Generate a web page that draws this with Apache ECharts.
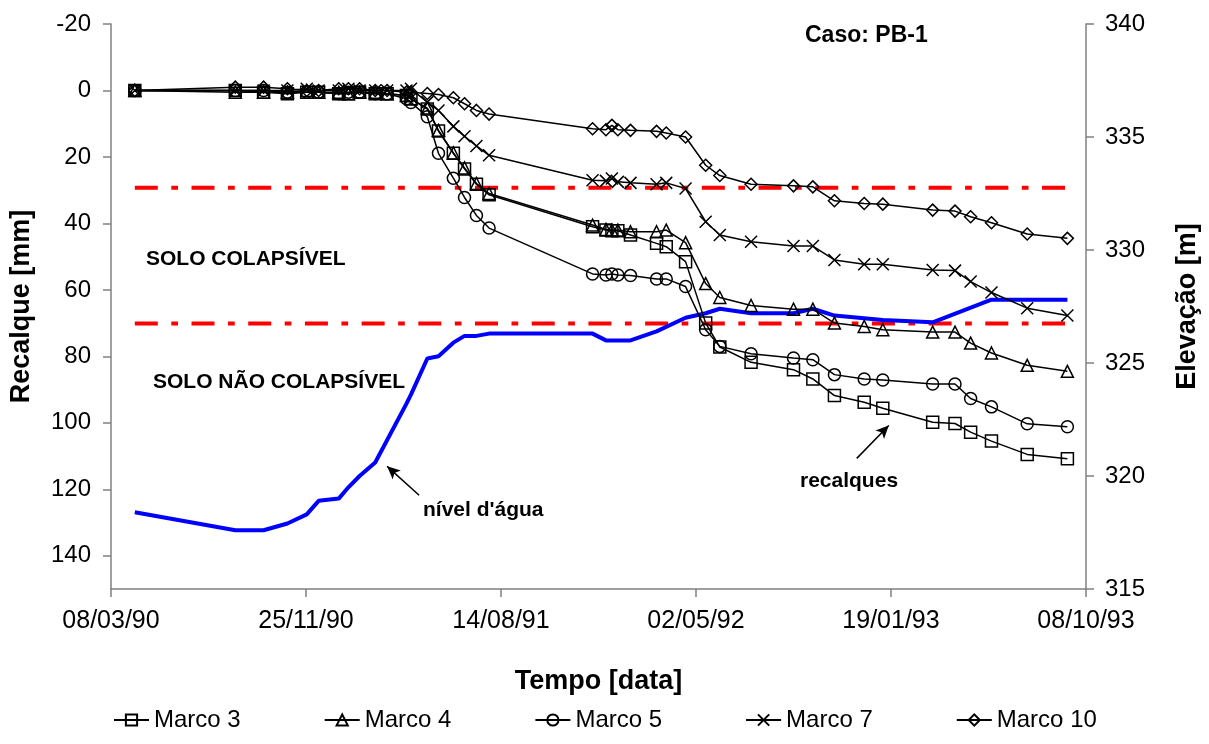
<!DOCTYPE html>
<html>
<head>
<meta charset="utf-8">
<title>Caso: PB-1</title>
<script src="https://cdn.jsdelivr.net/npm/echarts@6/dist/echarts.min.js"></script>
<style>
  html, body { margin: 0; padding: 0; background: #fff; }
  #grafico { width: 1209px; height: 744px; }
</style>
</head>
<body>
<div id="grafico"></div>
<script>
// datas das leituras (iguais para todos os marcos)
var datas = ['1990-04-09','1990-08-22','1990-09-29','1990-10-31','1990-11-26','1990-12-12',
  '1991-01-08','1991-01-21','1991-02-05','1991-02-26','1991-03-14','1991-04-09','1991-04-15',
  '1991-05-07','1991-05-22','1991-06-11','1991-06-26','1991-07-12','1991-07-29','1991-12-15',
  '1992-01-02','1992-01-10','1992-01-18','1992-02-04','1992-03-10','1992-03-23','1992-04-18',
  '1992-05-15','1992-06-03','1992-07-15','1992-09-10','1992-10-06','1992-11-04','1992-12-14',
  '1993-01-08','1993-03-16','1993-04-15','1993-05-06','1993-06-03','1993-07-21','1993-09-13'];

// recalques [mm]
var marco3 = [0,0,0.5,1,0.5,0.5,1,1,0.5,1,1, 1.5,2.5,5.6,12.2,18.9,23.6,28.2,31.4,
  41,42,42.2,42.2,43.5,46,47,51.5, 70,77.2,81.8,84,86.8,91.8,93.8,95.6,99.8,100.2,102.8,105.5,109.5,110.8];
var marco4 = [0,0.5,0.5,0.5,0,0.5,0.5,1,0.5,0.5,1, 1.5,2.5,5.3,12,18.8,23.3,28,31,
  40.5,41.8,42,42,42.5,42.5,42,45.8, 58.1,62.3,64.7,65.8,65.8,70,71,72,72.7,72.7,76,79,82.7,84.5];
var marco5 = [0,0,0,0.5,0.5,0.5,1,0.5,0.5,1,1, 2.5,3.6,7.9,18.9,26.4,32.2,37.6,41.4,
  55.2,55.5,55.2,55.5,55.7,56.7,56.7,59, 72,77,79.2,80.5,81,85.5,86.8,87.1,88.3,88.3,92.7,95.2,100.3,101.2];
var marco7 = [0,0,0,0,-0.5,0,0,-0.5,0,0,0, 0,-0.5,3.5,6,10.8,13.8,16.7,19.5,
  27,27.2,26.5,27.5,27.8,28.2,27.8,29.5, 39.5,43.5,45.5,46.8,46.8,51,52.3,52.3,54,54.2,57.5,60.8,65.5,67.7];
var marco10 = [0,-1,-1,-0.5,0,0,-0.5,-0.5,-0.5,0,0, 0.5,0.5,0.9,1.2,2.2,4,6,7.1,
  11.5,11.8,10.5,11.8,12,12.3,12.8,14, 22.5,25.6,28.2,28.7,29,33.2,34,34.2,36,36.3,38,39.8,43.2,44.5];

// nivel d'agua (elevacao [m])
var nivelDatas = ['1990-04-09','1990-08-22','1990-09-29','1990-10-31','1990-11-26','1990-12-12',
  '1991-01-08','1991-01-21','1991-02-05','1991-02-26','1991-04-09','1991-04-15','1991-05-07',
  '1991-05-22','1991-06-11','1991-06-26','1991-07-12','1991-07-29','1991-12-15','1992-01-02',
  '1992-02-04','1992-03-10','1992-04-18','1992-05-15','1992-06-03','1992-07-15','1992-09-10',
  '1992-10-06','1992-11-04','1993-01-08','1993-03-16','1993-06-03','1993-09-13'];
var nivelCotas = [318.4,317.6,317.6,317.9,318.3,318.9,319.0,319.5,320.0,320.6,323.2,323.6,325.2,
  325.3,325.9,326.2,326.2,326.3,326.3,326.0,326.0,326.4,327.0,327.2,327.4,327.2,327.2,
  327.4,327.1,326.9,326.8,327.8,327.8];

// limites das camadas [mm]
var limites = [29.3, 70.1];
var limiteDatas = ['1990-04-09', '1993-09-13'];

// eixos
var inicio = '1990-03-08';
var passoDias = 262;
var rotulosX = ['08/03/90','25/11/90','14/08/91','02/05/92','19/01/93','08/10/93'];

// setas das anotacoes [data, mm]
var setaNivel = [['1991-04-26', 121.8], ['1991-03-14', 113.1]];
var setaRecalque = [['1992-12-04', 110.7], ['1993-01-16', 100.8]];

function dia(s) {
  var p = s.split('-'), q = inicio.split('-');
  return (Date.UTC(+p[0], p[1] - 1, +p[2]) - Date.UTC(+q[0], q[1] - 1, +q[2])) / 864e5;
}

var fonte = '"Liberation Sans", Arial, sans-serif';
var cinza = '#808080';

function marco(nome, valores, simbolo) {
  return {
    name: nome, type: 'line', z: 5,
    data: datas.map(function (d, i) { return [dia(d), valores[i]]; }),
    symbol: simbolo, symbolSize: 12, showAllSymbol: true,
    lineStyle: { color: '#000', width: 1.5 },
    itemStyle: { color: 'rgba(0,0,0,0)', borderColor: '#000', borderWidth: 1.5 },
    emphasis: { disabled: true }
  };
}

function limite(v, comSetas) {
  var s = {
    name: 'limite', type: 'line', z: 2, symbol: 'none',
    data: limiteDatas.map(function (d) { return [dia(d), v]; }),
    lineStyle: { color: '#ff0000', width: 4, type: [23, 13.5, 6.7, 13.5] },
    emphasis: { disabled: true }
  };
  if (comSetas) {
    s.markLine = {
      silent: true, symbol: ['none', 'arrow'], symbolSize: [9, 13],
      label: { show: false },
      lineStyle: { color: '#000', width: 1.5, type: 'solid' },
      data: [setaNivel, setaRecalque].map(function (a) {
        return [{ coord: [dia(a[0][0]), a[0][1]] }, { coord: [dia(a[1][0]), a[1][1]] }];
      })
    };
  }
  return s;
}

function texto(t, x, y, tam) {
  return { type: 'text', x: x, y: y, z: 10,
    style: { text: t, fill: '#000', font: 'bold ' + tam + 'px ' + fonte, verticalAlign: 'middle' } };
}

var grafico = echarts.init(document.getElementById('grafico'));
grafico.setOption({
  animation: false,
  backgroundColor: '#fff',
  textStyle: { fontFamily: fonte },
  grid: { left: 110, right: 122, top: 24, bottom: 155 },
  legend: {
    data: ['Marco 3', 'Marco 4', 'Marco 5', 'Marco 7', 'Marco 10'],
    left: 108, top: 703, itemWidth: 35, itemHeight: 14, itemGap: 83,
    textStyle: { fontSize: 24, color: '#000', fontFamily: fonte }
  },
  xAxis: {
    type: 'value', min: 0, max: dia('1993-10-08'), interval: passoDias,
    name: 'Tempo [data]', nameLocation: 'middle', nameGap: 79,
    nameTextStyle: { fontSize: 27, fontWeight: 'bold', color: '#000' },
    axisLine: { onZero: false, lineStyle: { color: cinza, width: 1.5 } },
    axisTick: { length: 8, lineStyle: { color: cinza, width: 1.5 } },
    axisLabel: { fontSize: 25, color: '#000', margin: 20,
      formatter: function (v) { return rotulosX[Math.round(v / passoDias)] || ''; } },
    splitLine: { show: false }
  },
  yAxis: [{
    type: 'value', inverse: true, min: -20, max: 150, interval: 20,
    name: 'Recalque [mm]', nameLocation: 'middle', nameGap: 76,
    nameTextStyle: { fontSize: 27, fontWeight: 'bold', color: '#000' },
    axisLine: { show: true, onZero: false, lineStyle: { color: cinza, width: 1.5 } },
    axisTick: { show: true, length: 8, lineStyle: { color: cinza, width: 1.5 } },
    axisLabel: { fontSize: 24, color: '#000', margin: 20, showMaxLabel: false },
    splitLine: { show: false }
  }, {
    type: 'value', position: 'right', min: 315, max: 340, interval: 5,
    name: 'Elevação [m]', nameLocation: 'middle', nameGap: 88,
    nameTextStyle: { fontSize: 27, fontWeight: 'bold', color: '#000' },
    axisLine: { show: true, onZero: false, lineStyle: { color: cinza, width: 1.5 } },
    axisTick: { show: true, length: 8, lineStyle: { color: cinza, width: 1.5 } },
    axisLabel: { fontSize: 24, color: '#000', margin: 19 },
    splitLine: { show: false }
  }],
  series: [
    limite(limites[0], true),
    limite(limites[1], false),
    {
      name: "nível d'água", type: 'line', yAxisIndex: 1, z: 3, symbol: 'none',
      data: nivelDatas.map(function (d, i) { return [dia(d), nivelCotas[i]]; }),
      lineStyle: { color: '#0000ff', width: 4 },
      emphasis: { disabled: true }
    },
    marco('Marco 3', marco3, 'rect'),
    marco('Marco 4', marco4, 'triangle'),
    marco('Marco 5', marco5, 'circle'),
    marco('Marco 7', marco7, 'path://M0,0L10,10M0,10L10,0'),
    marco('Marco 10', marco10, 'diamond')
  ],
  graphic: [
    texto('Caso: PB-1', 805, 36, 23),
    texto('SOLO COLAPSÍVEL', 146, 259, 21),
    texto('SOLO NÃO COLAPSÍVEL', 153, 382, 21),
    texto("nível d'água", 423, 510, 21),
    texto('recalques', 800, 481, 21)
  ]
});
</script>
</body>
</html>
